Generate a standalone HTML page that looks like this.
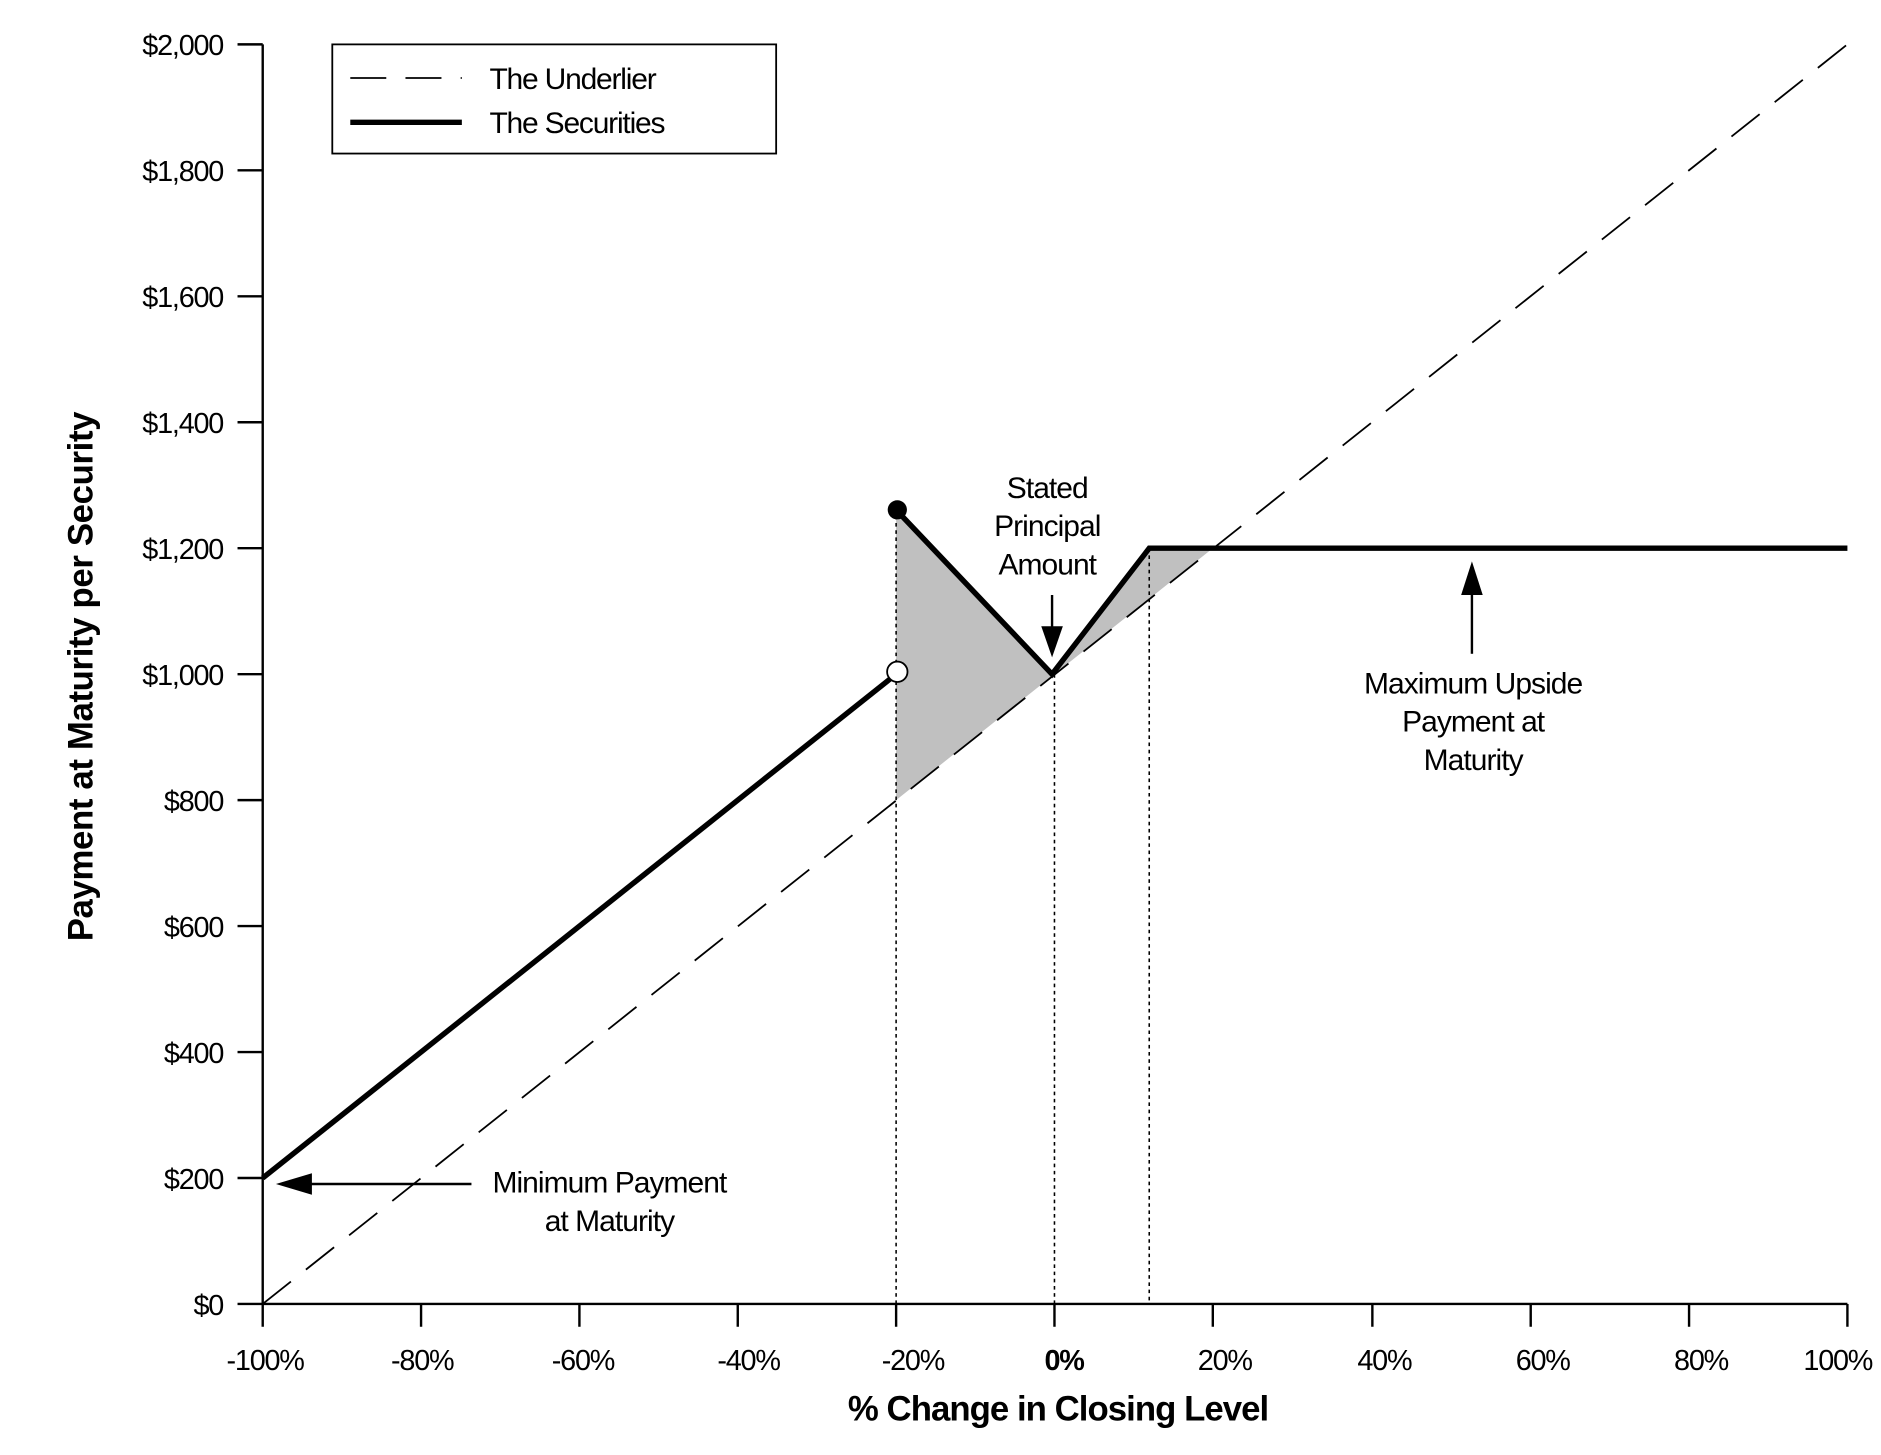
<!DOCTYPE html>
<html><head><style>html,body{margin:0;padding:0;background:#fff}svg{display:block}text{font-family:"Liberation Sans",Arial,sans-serif;fill:#000}</style></head>
<body>
<svg width="1881" height="1455" viewBox="0 0 1568 1212.9" preserveAspectRatio="none" xmlns="http://www.w3.org/2000/svg">
<polygon points="747,425 879,562 958,457 1011,457 747,667" fill="#c0c0c0"/>
<g stroke="#000" stroke-width="1.3" stroke-dasharray="3,3">
<line x1="747" y1="430" x2="747" y2="1087"/>
<line x1="879" y1="562" x2="879" y2="1087"/>
<line x1="958" y1="457" x2="958" y2="1087"/>
</g>
<line x1="219" y1="1087" x2="1540" y2="37" stroke="#000" stroke-width="1.5" stroke-dasharray="30,16"/>
<g stroke="#000" stroke-width="2">
<line x1="219" y1="37" x2="219" y2="1087"/>
<line x1="198" y1="1087" x2="1540" y2="1087"/>
<line x1="198" y1="37" x2="219" y2="37"/><line x1="198" y1="142" x2="219" y2="142"/><line x1="198" y1="247" x2="219" y2="247"/><line x1="198" y1="352" x2="219" y2="352"/><line x1="198" y1="457" x2="219" y2="457"/><line x1="198" y1="562" x2="219" y2="562"/><line x1="198" y1="667" x2="219" y2="667"/><line x1="198" y1="772" x2="219" y2="772"/><line x1="198" y1="877" x2="219" y2="877"/><line x1="198" y1="982" x2="219" y2="982"/>
<line x1="219" y1="1087" x2="219" y2="1106"/><line x1="351" y1="1087" x2="351" y2="1106"/><line x1="483" y1="1087" x2="483" y2="1106"/><line x1="615" y1="1087" x2="615" y2="1106"/><line x1="747" y1="1087" x2="747" y2="1106"/><line x1="879" y1="1087" x2="879" y2="1106"/><line x1="1011" y1="1087" x2="1011" y2="1106"/><line x1="1144" y1="1087" x2="1144" y2="1106"/><line x1="1276" y1="1087" x2="1276" y2="1106"/><line x1="1408" y1="1087" x2="1408" y2="1106"/><line x1="1540" y1="1087" x2="1540" y2="1106"/>
</g>
<g fill="none" stroke="#000" stroke-width="4.5" stroke-linejoin="miter">
<polyline points="219,982 747,562"/>
<polyline points="747,425 877,562 958,457 1540,457"/>
</g>
<circle cx="748" cy="425" r="8" fill="#000"/>
<circle cx="748" cy="560" r="8.5" fill="#fff" stroke="#000" stroke-width="1.5"/>
<line x1="393" y1="987" x2="255" y2="987" stroke="#000" stroke-width="2"/>
<polygon points="230,987 260,978 260,996" fill="#000"/>
<line x1="877" y1="496" x2="877" y2="525" stroke="#000" stroke-width="2"/>
<polygon points="877,548 868,522 886,522" fill="#000"/>
<line x1="1227" y1="545" x2="1227" y2="495" stroke="#000" stroke-width="2"/>
<polygon points="1227,468 1218,496 1236,496" fill="#000"/>
<rect x="277" y="37" width="370" height="91" fill="#fff" stroke="#000" stroke-width="1.5"/>
<line x1="292" y1="65" x2="385" y2="65" stroke="#000" stroke-width="1.5" stroke-dasharray="30,16"/>
<line x1="292" y1="102" x2="385" y2="102" stroke="#000" stroke-width="4.5"/>
<g font-size="25" letter-spacing="-1">
<text x="408" y="74">The Underlier</text>
<text x="408" y="111">The Securities</text>
</g>
<g font-size="24" letter-spacing="-1" text-anchor="end">
<text x="186" y="46">$2,000</text><text x="186" y="151">$1,800</text><text x="186" y="256">$1,600</text><text x="186" y="361">$1,400</text><text x="186" y="466">$1,200</text><text x="186" y="571">$1,000</text><text x="186" y="676">$800</text><text x="186" y="781">$600</text><text x="186" y="886">$400</text><text x="186" y="991">$200</text><text x="186" y="1096">$0</text>
</g>
<g font-size="24" letter-spacing="-1" text-anchor="middle">
<text x="221" y="1142">-100%</text><text x="352" y="1142">-80%</text><text x="486" y="1142">-60%</text><text x="624" y="1142">-40%</text><text x="761" y="1142">-20%</text><text x="887" y="1142" font-weight="bold">0%</text><text x="1021" y="1142">20%</text><text x="1154" y="1142">40%</text><text x="1286" y="1142">60%</text><text x="1418" y="1142">80%</text><text x="1532" y="1142">100%</text>
</g>
<text x="882" y="1184" font-size="29" font-weight="bold" letter-spacing="-0.8" text-anchor="middle">% Change in Closing Level</text>
<text transform="translate(77,564) rotate(-90)" font-size="29" font-weight="bold" letter-spacing="-0.3" text-anchor="middle">Payment at Maturity per Security</text>
<g font-size="25" letter-spacing="-0.8" text-anchor="middle">
<text x="508" y="994">Minimum Payment</text><text x="508" y="1026">at Maturity</text>
<text x="873" y="415">Stated</text><text x="873" y="447">Principal</text><text x="873" y="479">Amount</text>
<text x="1228" y="578">Maximum Upside</text><text x="1228" y="610">Payment at</text><text x="1228" y="642">Maturity</text>
</g>
</svg>
</body></html>
